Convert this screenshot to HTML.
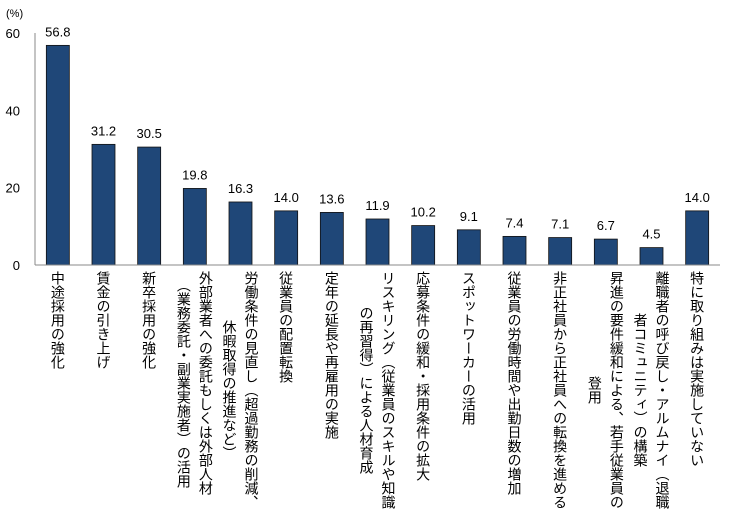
<!DOCTYPE html>
<html><head><meta charset="utf-8"><style>
body{margin:0;background:#fff;width:750px;height:507px;overflow:hidden;font-family:"Liberation Sans","Noto Sans CJK JP",sans-serif;}
#c{position:relative;width:750px;height:507px;}
.lab{position:absolute;top:271px;writing-mode:vertical-rl;text-align:center;font-size:14px;line-height:22px;color:#000;white-space:nowrap;}
</style></head><body>
<div id="c">
<svg id="s" width="750" height="507" style="position:absolute;left:0;top:0"></svg>
</div>
<script>
const categories=["中途採用の強化","賃金の引き上げ","新卒採用の強化","外部業者への委託もしくは外部人材\n（業務委託・副業実施者）の活用","労働条件の見直し（超過勤務の削減、\n休暇取得の推進など）","従業員の配置転換","定年の延長や再雇用の実施","リスキリング（従業員のスキルや知識\nの再習得）による人材育成","応募条件の緩和・採用条件の拡大","スポットワーカーの活用","従業員の労働時間や出勤日数の増加","非正社員から正社員への転換を進める","昇進の要件緩和による、若手従業員の\n登用","離職者の呼び戻し・アルムナイ（退職\n者コミュニティ）の構築","特に取り組みは実施していない"];
const values=[56.8,31.2,30.5,19.8,16.3,14.0,13.6,11.9,10.2,9.1,7.4,7.1,6.7,4.5,14.0];
const valueLabels=["56.8","31.2","30.5","19.8","16.3","14.0","13.6","11.9","10.2","9.1","7.4","7.1","6.7","4.5","14.0"];
const ticks=[0,20,40,60];
const NS="http://www.w3.org/2000/svg";
const svg=document.getElementById('s');
const X0=35,X1=720,Y0=265,Y1=33,YMAX=60;
const band=(X1-X0)/categories.length;
const y=v=>Y0-(v/YMAX)*(Y0-Y1);
const xc=i=>X0+band*(i+0.5);
function mk(t,a){const e=document.createElementNS(NS,t);for(const k in a)e.setAttribute(k,a[k]);svg.appendChild(e);return e;}
ticks.forEach(t=>{
 const e=mk('text',{x:20,y:y(t)+5,'text-anchor':'end','font-size':'13','fill':'#000','font-family':'Liberation Sans, sans-serif'});
 e.textContent=t;
 
 
});
const u=mk('text',{x:6,y:17,'font-size':'11','fill':'#000'});
u.textContent='(%)';


values.forEach((v,i)=>{
 const r=mk('rect',{x:xc(i)-11.5,y:y(v),width:23,height:Y0-y(v),fill:'#1f4778',stroke:'#111','stroke-width':'0.8'});
 
 
 const t=mk('text',{x:xc(i),y:y(v)-9,'text-anchor':'middle','font-size':'13','fill':'#000'});
 t.textContent=valueLabels[i];
 
 
});
const ya=mk('line',{x1:X0,y1:Y1,x2:X0,y2:Y0,stroke:'#888','stroke-width':'1'});


const xa=mk('line',{x1:X0,y1:Y0,x2:X1,y2:Y0,stroke:'#888','stroke-width':'1'});


const c=document.getElementById('c');
categories.forEach((cat,i)=>{
 const d=document.createElement('div');
 d.className='lab';
 
 
 const lines=cat.split('\n');
 d.innerHTML=lines.join('<br>');
 c.appendChild(d);
 const w=lines.length*22;
 d.style.left=(xc(i)-w/2)+'px';
 d.style.width=w+'px';
});
</script>
</body></html>
